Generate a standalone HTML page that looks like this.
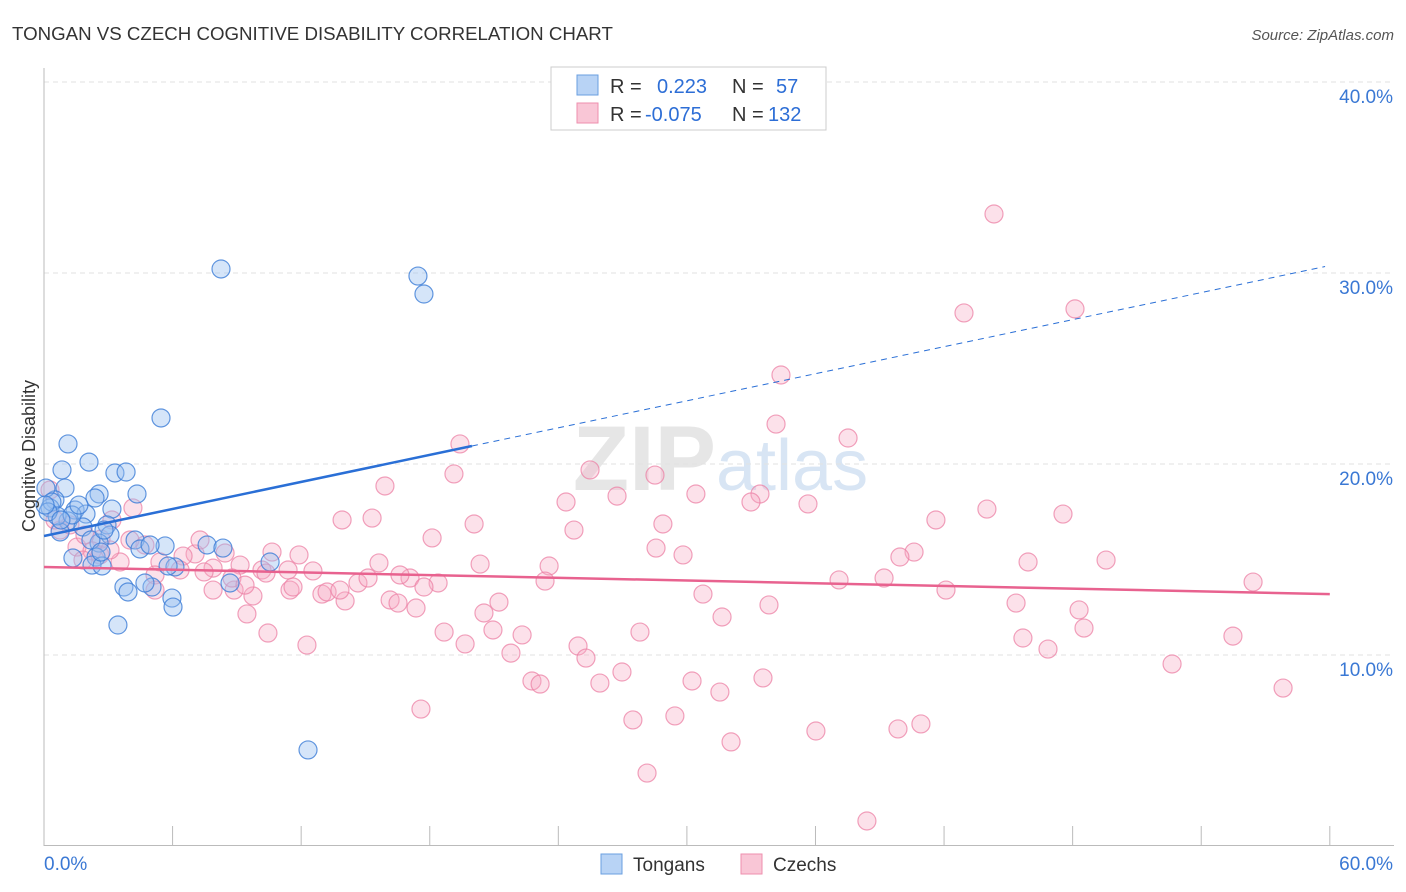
<!DOCTYPE html>
<html><head><meta charset="utf-8">
<style>
body{margin:0;background:#fff;font-family:"Liberation Sans",sans-serif;}
#wrap{position:relative;width:1406px;height:892px;overflow:hidden;}
svg text{font-family:"Liberation Sans",sans-serif;}
</style></head>
<body>
<div id="wrap">
<svg id="chart" width="1406" height="892">
<text x="12" y="40" font-size="18.7" fill="#333">TONGAN VS CZECH COGNITIVE DISABILITY CORRELATION CHART</text>
<text x="1394" y="40" font-size="15" fill="#555" font-style="italic" text-anchor="end">Source: ZipAtlas.com</text>
<text x="716" y="490" font-size="92" fill="#e6e6e6" text-anchor="end" font-family="Liberation Serif" font-weight="bold">ZIP</text>
<text x="716" y="490" font-size="72" fill="#d8e5f4">atlas</text>
<g id="grid"></g>
<g id="axes"></g>
<g id="marks"></g>
<text x="35" y="456" font-size="18" fill="#333" text-anchor="middle" transform="rotate(-90 35 456)">Cognitive Disability</text>
<g>
<rect x="551" y="67" width="275" height="63" fill="#fff" stroke="#ccc"/>
<rect x="577" y="75" width="21" height="20" fill="#b8d3f5" stroke="#6a9fe0"/>
<rect x="577" y="103" width="21" height="20" fill="#f9c6d6" stroke="#ee8fae"/>
<text y="93" font-size="20" fill="#333"><tspan x="610">R =</tspan><tspan x="657" fill="#2d6ed6">0.223</tspan><tspan x="732">N =</tspan><tspan x="776" fill="#2d6ed6">57</tspan></text>
<text y="121" font-size="20" fill="#333"><tspan x="610">R =</tspan><tspan x="645" fill="#2d6ed6">-0.075</tspan><tspan x="732">N =</tspan><tspan x="768" fill="#2d6ed6">132</tspan></text>
</g>
<g>
<rect x="601" y="854" width="21" height="20" fill="#b8d3f5" stroke="#6a9fe0"/>
<text x="633" y="871" font-size="19" fill="#333">Tongans</text>
<rect x="741" y="854" width="21" height="20" fill="#f9c6d6" stroke="#ee8fae"/>
<text x="773" y="871" font-size="19" fill="#333">Czechs</text>
</g>
</svg>
</div>
<script>
const yTicks=[10,20,30,40];
const yTickLabels=["10.0%","20.0%","30.0%","40.0%"];
const xTicks=[6,12,18,24,30,36,42,48,54,60];
const xEndLabels=["0.0%","60.0%"];
const tonganX=[8.26,17.45,17.73,5.46,1.12,2.10,0.84,3.31,3.83,4.34,0.98,0.51,2.57,2.38,0.09,0.28,3.17,1.45,1.96,1.12,1.82,2.94,0.75,3.08,2.57,4.25,5.65,7.61,8.35,1.35,2.43,2.24,2.71,6.11,10.55,8.68,3.73,5.04,3.92,4.71,5.97,6.02,3.45,12.32,0.37,0.61,0.19,0.05,1.31,2.19,2.66,4.48,2.80,0.79,1.63,5.79,4.95];
const tonganY=[30.21,29.84,28.90,22.41,21.05,20.10,19.69,19.53,19.58,18.43,18.74,18.12,18.43,18.22,18.74,17.70,17.64,17.59,17.38,17.02,16.70,16.81,16.44,16.28,15.86,16.02,15.71,15.76,15.60,15.08,15.13,14.71,14.66,14.61,14.87,13.77,13.56,13.56,13.30,13.77,12.98,12.51,11.57,5.03,18.01,17.28,17.49,17.85,17.33,16.02,15.39,15.55,16.54,17.07,17.85,14.66,15.76];
const czechX=[44.33,48.11,42.93,34.39,34.16,37.52,19.41,25.48,28.51,19.13,15.91,26.74,30.42,33.41,32.99,35.65,24.36,47.55,44.00,41.62,20.07,28.88,13.91,15.31,24.73,18.11,28.56,29.82,40.60,39.94,45.92,49.56,20.35,23.57,15.63,56.42,37.10,39.20,42.09,23.38,18.39,17.08,17.73,14.65,15.12,30.75,33.83,45.36,48.30,48.53,16.15,21.23,20.53,17.36,14.05,12.97,13.21,11.48,11.62,12.55,11.90,10.64,9.15,10.17,7.89,7.47,7.05,6.49,5.41,4.71,4.15,2.66,1.54,2.24,1.82,2.61,3.55,5.18,7.89,8.87,9.75,9.47,10.45,12.27,18.67,20.95,22.31,19.65,21.79,24.92,25.29,27.81,31.64,45.68,46.85,55.48,52.64,57.82,26.97,25.94,22.77,23.15,30.24,33.55,31.54,17.59,27.48,29.44,32.06,36.02,39.85,40.92,28.14,38.40,16.52,16.61,8.77,10.36,11.39,6.35,3.17,0.75,0.28,0.51,1.21,1.91,4.01,3.08,7.28,8.45,5.18,9.38,13.81];
const czechY=[33.09,28.12,27.91,24.66,22.09,21.36,21.05,19.69,19.42,19.48,18.85,18.32,18.43,18.43,18.01,17.91,18.01,17.38,17.64,17.07,16.86,16.86,17.07,17.17,16.54,16.13,15.60,15.24,15.39,15.13,14.87,14.97,14.76,14.66,14.82,13.82,13.93,14.03,13.40,13.87,13.77,14.03,13.56,13.77,14.03,13.19,12.62,12.72,12.36,11.41,12.88,12.77,12.20,12.46,12.83,13.19,13.30,13.40,13.56,14.40,15.24,15.39,14.71,14.45,14.55,14.35,15.29,15.18,14.87,15.76,17.70,16.07,15.65,15.45,14.97,15.24,14.87,14.19,13.40,13.40,13.09,12.15,11.15,10.52,11.20,11.31,11.05,10.58,10.10,10.47,9.84,11.20,11.99,10.89,10.31,10.99,9.53,8.27,9.11,8.53,8.64,8.48,8.64,8.80,8.06,7.17,6.60,6.81,5.45,6.02,6.13,6.39,3.82,1.31,12.72,14.19,14.03,14.29,14.45,14.45,17.07,16.54,18.64,17.07,16.81,16.28,16.02,15.50,16.02,15.34,13.40,13.66,13.40];
const tonganTrend=[16.23,0.236];
const czechTrend=[14.61,-0.0237];
const tonganSolidEnd=19.97, tonganDashEnd=59.78;

const NS="http://www.w3.org/2000/svg";
const X=v=>44+v*21.43;
const Y=v=>846-v*19.1;
function mk(tag,attrs,parent){const e=document.createElementNS(NS,tag);for(const k in attrs)e.setAttribute(k,attrs[k]);parent.appendChild(e);return e;}
const grid=document.getElementById('grid'),axes=document.getElementById('axes'),marks=document.getElementById('marks');
yTicks.forEach((t,i)=>{
 const l=mk('line',{x1:44,x2:1394,y1:Y(t),y2:Y(t),stroke:'#e2e2e2','stroke-dasharray':'5,4'},grid);
 
 
 const tx=mk('text',{x:1393,y:Y(t)+21,'font-size':19,fill:'#3a78d4','text-anchor':'end'},axes);
 tx.textContent=yTickLabels[i];
 
 
});
let al=mk('line',{x1:44,x2:44,y1:68,y2:846,stroke:'#bbb'},axes);


al=mk('line',{x1:44,x2:1394,y1:845.5,y2:845.5,stroke:'#bbb'},axes);


xTicks.forEach(t=>{
 const l=mk('line',{x1:X(t),x2:X(t),y1:826,y2:846,stroke:'#bbb'},axes);
 
 });
let xl=mk('text',{x:44,y:870,'font-size':19,fill:'#3a78d4'},axes);xl.textContent=xEndLabels[0];


xl=mk('text',{x:1393,y:870,'font-size':19,fill:'#3a78d4','text-anchor':'end'},axes);xl.textContent=xEndLabels[1];



czechX.forEach((x,i)=>{const c=mk('circle',{cx:X(x),cy:Y(czechY[i]),r:9,fill:'rgba(246,170,196,0.35)',stroke:'rgba(236,130,165,0.75)','stroke-width':1.2},marks);
 
 });
tonganX.forEach((x,i)=>{const c=mk('circle',{cx:X(x),cy:Y(tonganY[i]),r:9,fill:'rgba(150,190,240,0.4)',stroke:'rgba(60,125,215,0.8)','stroke-width':1.2},marks);
 
 });
const ty=x=>tonganTrend[0]+tonganTrend[1]*x, cy=x=>czechTrend[0]+czechTrend[1]*x;
let tl=mk('line',{x1:X(0),y1:Y(ty(0)),x2:X(tonganSolidEnd),y2:Y(ty(tonganSolidEnd)),stroke:'#2a6fd6','stroke-width':2.5},marks);


tl=mk('line',{x1:X(tonganSolidEnd),y1:Y(ty(tonganSolidEnd)),x2:X(tonganDashEnd),y2:Y(ty(tonganDashEnd)),stroke:'#2a6fd6','stroke-width':1,'stroke-dasharray':'6,5'},marks);


tl=mk('line',{x1:X(0),y1:Y(cy(0)),x2:X(60),y2:Y(cy(60)),stroke:'#e8628f','stroke-width':2.5},marks);


</script>
</body></html>
